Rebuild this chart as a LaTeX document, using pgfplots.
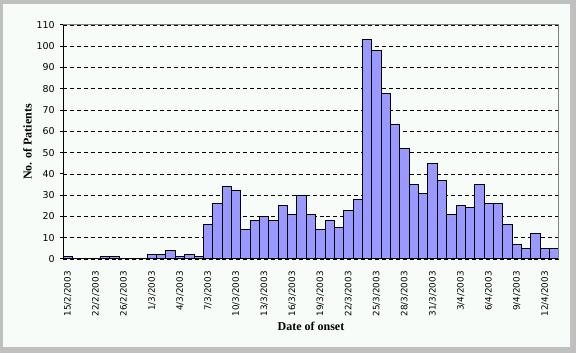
\documentclass[border=0pt]{standalone}
\usepackage{fontspec}
\usepackage{pgfplots}
\pgfplotsset{compat=1.18}
\setmainfont{Liberation Serif}
\newfontfamily\dejavu{DejaVu Sans}
\definecolor{barfill}{RGB}{153,153,255}
\definecolor{bgc}{RGB}{248,252,248}
\definecolor{framec}{RGB}{192,192,192}
\definecolor{borderc}{RGB}{128,128,128}
\begin{document}
\begin{tikzpicture}
\useasboundingbox (0,0) rectangle (432pt,264.75pt);
\fill[framec] (0,0) rectangle (432pt,264.75pt);
\fill[bgc] (3*0.75pt,6*0.75pt) rectangle (570*0.75pt,349*0.75pt);
\begin{axis}[
  at={(63*0.75pt,94*0.75pt)}, anchor=south west,
  scale only axis, width=372pt, height=175.5pt,
  xmin=-0.5, xmax=52.5, ymin=0, ymax=110,
  ytick={0,10,...,110},
  xtick={0,3,...,51},
  xticklabels={15/2/2003,22/2/2003,26/2/2003,1/3/2003,4/3/2003,7/3/2003,10/3/2003,13/3/2003,16/3/2003,19/3/2003,22/3/2003,25/3/2003,28/3/2003,31/3/2003,3/4/2003,6/4/2003,9/4/2003,12/4/2003},
  axis lines*=left, axis line style={-, black, line width=0.75pt},
  tick align=outside, major tick length=2.25pt,
  ytick style={black, line width=0.75pt},
  xtick style={draw=none},
  ymajorgrids, grid style={black, line width=0.6pt, dash pattern=on 3pt off 2.2pt},
  /pgf/number format/assume math mode=true,
  yticklabel style={font=\dejavu\fontsize{7.1}{8}\selectfont, anchor=east, inner sep=0pt, xshift=-3.75pt},
  xticklabel style={font=\dejavu\fontsize{6.6}{8}\selectfont, rotate=90, anchor=east, inner sep=0pt, yshift=0pt},
  xticklabel shift=6.75pt,
  xlabel={Date of onset}, ylabel={No. of Patients},
  xlabel style={font=\fontsize{9}{10}\selectfont\bfseries, at={(axis description cs:0.5,-0.286)}, anchor=center},
  ylabel style={font=\fontsize{9}{10}\selectfont\bfseries, at={(axis description cs:-0.0716,0.5)}, anchor=center, rotate=0},
  clip=false,
]
\addplot[ybar, bar width=1, fill=barfill, draw=black, line width=0.75pt] table {
x y
0 1
1 0
2 0
3 0
4 1
5 1
6 0
7 0
8 0
9 2
10 2
11 4
12 1
13 2
14 1
15 16
16 26
17 34
18 32
19 14
20 18
21 20
22 18
23 25
24 21
25 30
26 21
27 14
28 18
29 15
30 23
31 28
32 103
33 98
34 78
35 63
36 52
37 35
38 31
39 45
40 37
41 21
42 25
43 24
44 35
45 26
46 26
47 16
48 7
49 5
50 12
51 5
52 5
};
\draw[borderc, line width=0.75pt] (rel axis cs:0,1) -- (rel axis cs:1,1) -- (rel axis cs:1,0);
\end{axis}
\end{tikzpicture}
\end{document}
